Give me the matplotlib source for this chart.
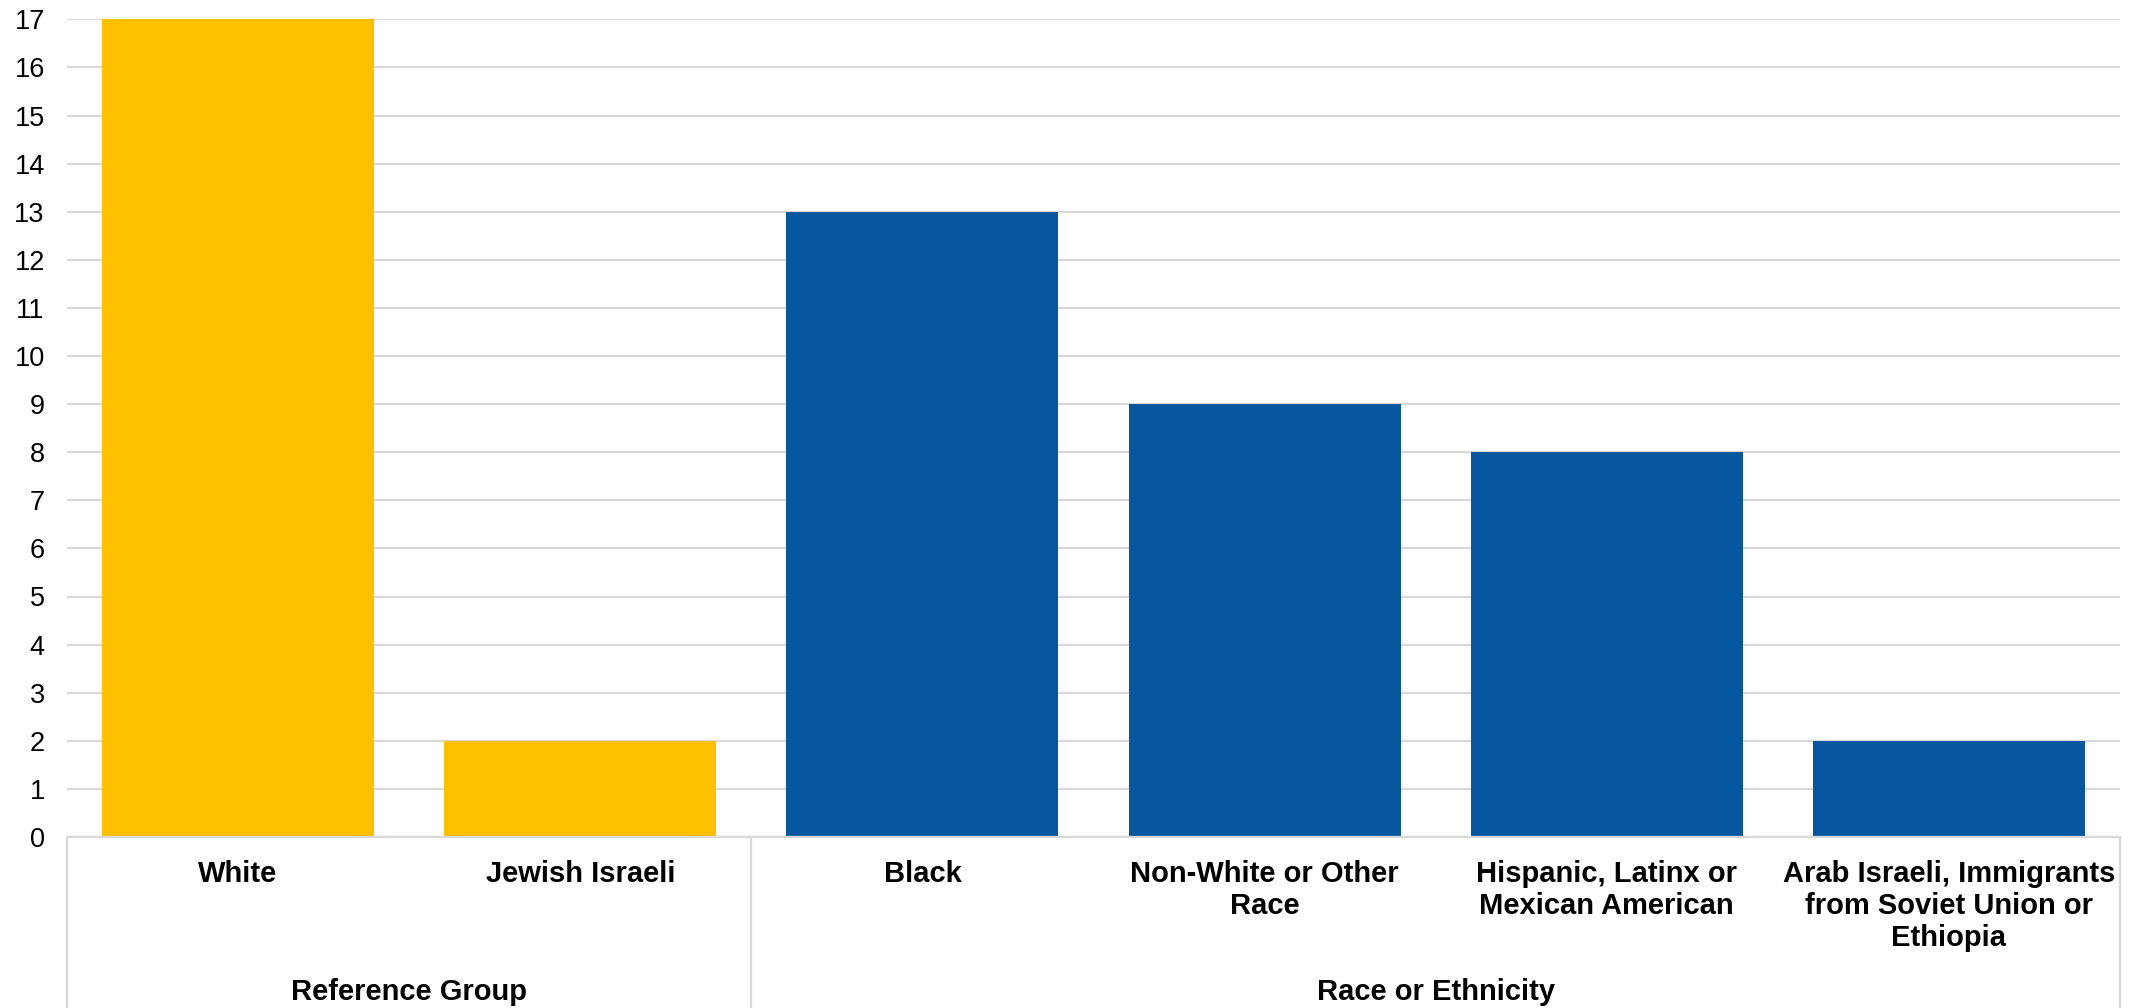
import matplotlib
matplotlib.use('Agg')
import matplotlib.pyplot as plt
import matplotlib.transforms as mtransforms

plt.rcParams['font.family'] = ['Liberation Sans', 'DejaVu Sans']

# 类别、数值与分组
categories = ['White', 'Jewish Israeli', 'Black', 'Non-White or Other\nRace',
              'Hispanic, Latinx or\nMexican American',
              'Arab Israeli, Immigrants\nfrom Soviet Union or\nEthiopia']
values = [17, 2, 13, 9, 8, 2]
groups = ['Reference Group', 'Race or Ethnicity']
group_sizes = [2, 4]
group_colors = ['#FFC000', '#0757A0']

fig = plt.figure(figsize=(21.51, 10.08), dpi=100)
ax = fig.add_axes([67 / 2151, (1008 - 837) / 1008, (2120 - 67) / 2151, (837 - 19.3) / 1008])

colors = []
for size, c in zip(group_sizes, group_colors):
    colors += [c] * size

x = list(range(len(categories)))
ax.bar(x, values, width=0.795, color=colors, zorder=2)

ax.set_xlim(-0.5, len(categories) - 0.5)
ax.set_ylim(0, 17)
ax.set_yticks(range(0, 18))
ax.tick_params(axis='y', length=0, labelsize=19.5, pad=16)
ax.tick_params(axis='x', length=0, labelbottom=False)
ax.grid(axis='y', color='#d9d9d9', linewidth=1.6, zorder=0)
for s in ['top', 'right', 'left']:
    ax.spines[s].set_visible(False)
ax.spines['bottom'].set_color('#d9d9d9')
ax.spines['bottom'].set_linewidth(1.6)

# x 轴下方的分组框
trans = mtransforms.blended_transform_factory(ax.transData, ax.transAxes)
y_bottom = -0.215
edges = [-0.5]
for size in group_sizes:
    edges.append(edges[-1] + size)
for e in edges:
    ax.plot([e, e], [0, y_bottom], transform=trans, color='#d9d9d9',
            linewidth=1.6, clip_on=False)

for i, label in enumerate(categories):
    ax.text(i, -0.028, label, transform=trans, ha='center', va='top',
            fontsize=21, fontweight='bold', linespacing=1.18)

for k, g in enumerate(groups):
    mid = (edges[k] + edges[k + 1]) / 2
    ax.text(mid, -0.1896, g, transform=trans, ha='center', va='center',
            fontsize=21, fontweight='bold')

fig.savefig('out.png', dpi=100)
